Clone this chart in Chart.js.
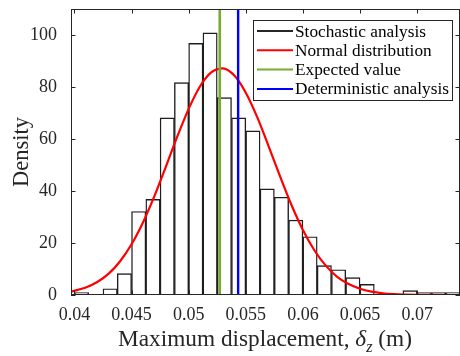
<!DOCTYPE html>
<html><head><meta charset="utf-8">
<script src="https://cdn.jsdelivr.net/npm/chart.js@4.4.1/dist/chart.umd.min.js"></script>
<style>html,body{margin:0;padding:0;background:#fff}canvas{display:block}</style>
</head><body>
<canvas id="c" width="460" height="356"></canvas>
<script>
// ---- data ----
const binCenters = [0.040625,0.041875,0.043125,0.044375,0.045625,0.046875,0.048125,0.049375,0.050625,0.051875,0.053125,0.054375,0.055625,0.056875,0.058125,0.059375,0.060625,0.061875,0.063125,0.064375,0.065625,0.066875,0.068125,0.069375,0.070625,0.071875,0.073125];
const histDensity = [0.9,0,2.4,8.2,32.1,36.8,68.1,81.7,96.8,100.8,75.9,68.1,63.1,40.8,37.6,28.8,22.4,11.3,9.7,6.7,4.1,0,0,1.7,0.9,0.9,0.9];
const normalX = [0.0397,0.041,0.042,0.043,0.044,0.045,0.046,0.047,0.048,0.049,0.050,0.051,0.052,0.053,0.054,0.055,0.056,0.057,0.058,0.059,0.060,0.061,0.062,0.063,0.064,0.065,0.066,0.067,0.068,0.069,0.070,0.071,0.072,0.073,0.07375];
const normalY = [1.3,2.9,5.0,8.2,13.0,19.5,27.9,38.0,49.3,60.9,71.6,80.3,85.7,87.2,84.4,77.8,68.4,57.2,45.6,34.6,25.0,17.2,11.3,7.0,4.2,2.4,1.3,0.66,0.32,0.15,0.06,0.02,0.01,0,0];
const expectedValue = 0.05272;
const deterministicValue = 0.05433;
const xTicks = [0.04,0.045,0.05,0.055,0.06,0.065,0.07];
const yTicks = [0,20,40,60,80,100];
const seriesLabels = ['Stochastic analysis','Normal distribution','Expected value','Deterministic analysis'];

const INK = '#262626';
const COLORS = [INK, '#ff0000', '#77ac30', '#0000ff'];
const FONT = '"Liberation Serif", "Times New Roman", serif';

function fitSize(ctx, text, target, style) {
  ctx.font = (style || '') + '20px ' + FONT;
  return 20 * target / ctx.measureText(text).width;
}

const frame = {
  id: 'frame',
  afterDatasetsDraw(chart) {
    const {ctx, chartArea: a, scales: {x, y}} = chart;
    ctx.save();
    ctx.strokeStyle = INK; ctx.lineWidth = 1;
    ctx.strokeRect(Math.round(a.left) + 0.5, Math.round(a.top) + 0.5, Math.round(a.right - a.left) - 1, Math.round(a.bottom - a.top) - 1);
    const L = 4.5;
    ctx.beginPath();
    xTicks.forEach(v => {
      const px = Math.round(x.getPixelForValue(v)) + 0.5;
      ctx.moveTo(px, a.bottom); ctx.lineTo(px, a.bottom - L);
      ctx.moveTo(px, a.top); ctx.lineTo(px, a.top + L);
    });
    yTicks.forEach(v => {
      const py = Math.round(y.getPixelForValue(v)) + 0.5;
      ctx.moveTo(a.left, py); ctx.lineTo(a.left + L, py);
      ctx.moveTo(a.right, py); ctx.lineTo(a.right - L, py);
    });
    ctx.stroke();

    // legend
    const bx = 253.5, by = 20.5, bw = 199, bh = 80;
    ctx.fillStyle = '#fff';
    ctx.fillRect(bx, by, bw, bh);
    ctx.strokeStyle = INK; ctx.lineWidth = 1;
    ctx.strokeRect(bx, by, bw, bh);
    const fs = fitSize(ctx, seriesLabels[3], 154);
    ctx.font = fs.toFixed(2) + 'px ' + FONT;
    ctx.textBaseline = 'alphabetic';
    ctx.textAlign = 'left';
    chart.data.datasets.forEach((ds, i) => {
      const cy = 31 + i * 19.3;
      ctx.strokeStyle = COLORS[i]; ctx.lineWidth = 2;
      ctx.beginPath(); ctx.moveTo(257, cy); ctx.lineTo(293, cy); ctx.stroke();
      ctx.fillStyle = '#000';
      ctx.fillText(ds.label, 295, cy + 5.5);
    });
    ctx.restore();
  },
  afterDraw(chart) {
    const {ctx} = chart;
    ctx.save();
    ctx.fillStyle = INK;
    // x title
    const parts = [
      {t: 'Maximum displacement, ', s: '', r: 1, dy: 0},
      {t: 'δ', s: 'italic ', r: 1, dy: 0},
      {t: 'z', s: 'italic ', r: 0.7, dy: 6},
      {t: ' (m)', s: '', r: 1, dy: 0}
    ];
    let w = 0;
    parts.forEach(p => { ctx.font = p.s + (20 * p.r) + 'px ' + FONT; w += ctx.measureText(p.t).width; });
    const base = 20 * 294 / w;
    w = 0;
    parts.forEach(p => { ctx.font = p.s + (base * p.r).toFixed(2) + 'px ' + FONT; p.w = ctx.measureText(p.t).width; w += p.w; });
    let cx = 265 - w / 2;
    ctx.textBaseline = 'alphabetic'; ctx.textAlign = 'left';
    parts.forEach(p => { ctx.font = p.s + (base * p.r).toFixed(2) + 'px ' + FONT; ctx.fillText(p.t, cx, 346 + p.dy); cx += p.w; });
    // y title
    const ys = fitSize(ctx, 'Density', 70);
    ctx.translate(28, 152);
    ctx.rotate(-Math.PI / 2);
    ctx.font = ys.toFixed(2) + 'px ' + FONT;
    ctx.textAlign = 'center';
    ctx.fillText('Density', 0, 0);
    ctx.restore();
  }
};

new Chart(document.getElementById('c'), {
  type: 'bar',
  data: {
    datasets: [
      {
        type: 'bar', label: seriesLabels[0], order: 4,
        data: binCenters.map((c, i) => ({x: c, y: histDensity[i]})),
        backgroundColor: 'rgba(255,255,255,1)', borderColor: '#1e1e1e', borderWidth: 1.4,
        borderSkipped: false, barPercentage: 1, categoryPercentage: 1
      },
      {
        type: 'line', label: seriesLabels[1], order: 3,
        data: normalX.map((v, i) => ({x: v, y: normalY[i]})),
        borderColor: COLORS[1], borderWidth: 2.2, pointRadius: 0, cubicInterpolationMode: 'monotone', fill: false
      },
      {
        type: 'line', label: seriesLabels[2], order: 2,
        data: [{x: expectedValue, y: 0}, {x: expectedValue, y: 110}],
        borderColor: COLORS[2], borderWidth: 2.6, pointRadius: 0
      },
      {
        type: 'line', label: seriesLabels[3], order: 1,
        data: [{x: deterministicValue, y: 0}, {x: deterministicValue, y: 110}],
        borderColor: COLORS[3], borderWidth: 2.4, pointRadius: 0
      }
    ]
  },
  options: {
    responsive: false, animation: false, devicePixelRatio: 1,
    layout: {padding: {top: 9, right: 0, left: 0, bottom: 0}},
    plugins: {legend: {display: false}, tooltip: {enabled: false}},
    scales: {
      x: {
        type: 'linear', min: 0.0397, max: 0.07375, offset: false,
        grid: {display: false, offset: false}, border: {display: false},
        afterBuildTicks: s => { s.ticks = xTicks.map(v => ({value: v})); },
        afterFit: s => { s.height = 61; s.paddingLeft = 0; s.paddingRight = 0; },
        ticks: {color: INK, font: {family: FONT, size: 18}, padding: 1, maxRotation: 0,
          callback: v => String(v)}
      },
      y: {
        type: 'linear', min: 0, max: 110,
        grid: {display: false}, border: {display: false},
        afterBuildTicks: s => { s.ticks = yTicks.map(v => ({value: v})); },
        afterFit: s => { s.width = 71; s.paddingTop = 0; s.paddingBottom = 0; },
        ticks: {color: INK, font: {family: FONT, size: 18}, padding: 6}
      }
    }
  },
  plugins: [frame]
});
</script>
</body></html>
